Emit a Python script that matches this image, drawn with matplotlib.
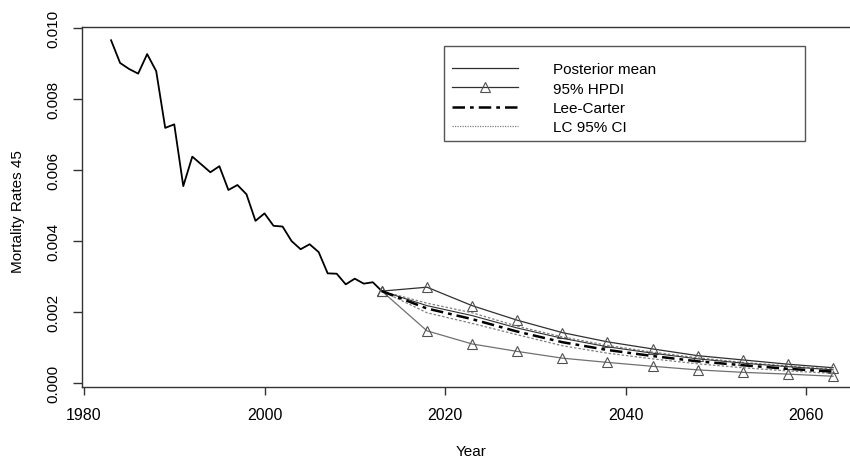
import numpy as np
import matplotlib
matplotlib.use('Agg')
import matplotlib.pyplot as plt
from matplotlib.patches import Rectangle

# observed mortality rates, age 45
hist_years = list(range(1983, 2014))
hist_rates = [0.00966, 0.00902, 0.00885, 0.00872, 0.00927, 0.00879, 0.00719, 0.00729,
              0.00555, 0.00638, 0.00616, 0.00594, 0.00611, 0.00544, 0.00558, 0.00532,
              0.00457, 0.00478, 0.00443, 0.00441, 0.00400, 0.00377, 0.00391, 0.00369,
              0.00309, 0.00308, 0.00278, 0.00294, 0.00280, 0.00284, 0.00259]

# forecasts every 5 years
fc_years = [2013, 2018, 2023, 2028, 2033, 2038, 2043, 2048, 2053, 2058, 2063]
post_mean = [0.00259, 0.00218, 0.00190, 0.00155, 0.00126, 0.00102, 0.00084, 0.00068, 0.00056, 0.00046, 0.00037]
hpdi_upper = [0.00259, 0.00270, 0.00218, 0.00177, 0.00142, 0.00116, 0.00096, 0.00077, 0.00065, 0.00053, 0.00043]
hpdi_lower = [0.00259, 0.00147, 0.00110, 0.00089, 0.00070, 0.00058, 0.00047, 0.00037, 0.00030, 0.00025, 0.00019]
lee_carter = [0.00259, 0.00210, 0.00180, 0.00145, 0.00115, 0.00093, 0.00076, 0.00061, 0.00050, 0.00040, 0.00032]
lc_upper = [0.00259, 0.00225, 0.00198, 0.00160, 0.00130, 0.00106, 0.00087, 0.00071, 0.00058, 0.00048, 0.00039]
lc_lower = [0.00259, 0.00198, 0.00168, 0.00136, 0.00105, 0.00084, 0.00068, 0.00054, 0.00043, 0.00034, 0.00027]

plt.rcParams['font.family'] = ['Liberation Sans', 'DejaVu Sans']

fig = plt.figure(figsize=(8.5, 4.64), dpi=100)
ax = fig.add_axes([0.0968, 0.1638, 0.9173, 0.7748])

ax.plot(hist_years, hist_rates, color='black', lw=1.3)
tri = dict(marker='^', markersize=7, fillstyle='none', markeredgewidth=0.8)
ax.plot(fc_years, hpdi_upper, color='#303030', lw=0.9, markeredgecolor='#505050', **tri)
ax.plot(fc_years, hpdi_lower, color='#707070', lw=0.9, markeredgecolor='#505050', **tri)
ax.plot(fc_years, lc_upper, color='#808080', lw=0.9, ls=(0, (2, 1.5)))
ax.plot(fc_years, lc_lower, color='#808080', lw=0.9, ls=(0, (2, 1.5)))
ax.plot(fc_years, post_mean, color='#303030', lw=0.8)
ax.plot(fc_years, lee_carter, color='black', lw=1.8, ls=(0, (5, 2, 1.5, 2)))

ax.set_xlim(1979.81, 2066.2)
ax.set_ylim(-0.000113, 0.01002)
ax.set_xticks([1980, 2000, 2020, 2040, 2060])
ax.set_yticks([0.0, 0.002, 0.004, 0.006, 0.008, 0.010])
ax.set_yticklabels(['%.3f' % v for v in ax.get_yticks()], rotation=90, va='center')
ax.tick_params(axis='y', length=6.5, width=1, color='#333333', pad=9, labelsize=11)
ax.tick_params(axis='x', length=5.5, width=1, color='#333333', pad=9, labelsize=11.5)
for s in ax.spines.values():
    s.set_color('#333333')
    s.set_linewidth(1)

fig.text(18 / 850, 1 - 212 / 464, 'Mortality Rates 45', rotation=90, ha='center', va='center', fontsize=11)
fig.text(471 / 850, 1 - 452 / 464, 'Year', ha='center', va='center', fontsize=11)

# legend box
fig.patches.append(Rectangle((444 / 850, 1 - 142 / 464), 361 / 850, 95 / 464,
                             transform=fig.transFigure, fill=False, edgecolor='#555555', lw=1))
handles = [
    plt.Line2D([], [], color='#303030', lw=0.9),
    plt.Line2D([], [], color='#303030', lw=0.9, markeredgecolor='#505050', **tri),
    plt.Line2D([], [], color='black', lw=1.8, ls=(0, (5, 2, 1.5, 2))),
    plt.Line2D([], [], color='#808080', lw=0.9, ls=(0, (1, 1))),
]
labels = ['Posterior mean', '95% HPDI', 'Lee-Carter', 'LC 95% CI']
fig.legend(handles, labels, loc='upper left', bbox_to_anchor=(452 / 850, 1 - 63 / 464),
           frameon=False, fontsize=11, handlelength=4.3, handletextpad=2.3,
           labelspacing=0.36, borderaxespad=0, borderpad=0)

fig.savefig('out.png', dpi=100)
